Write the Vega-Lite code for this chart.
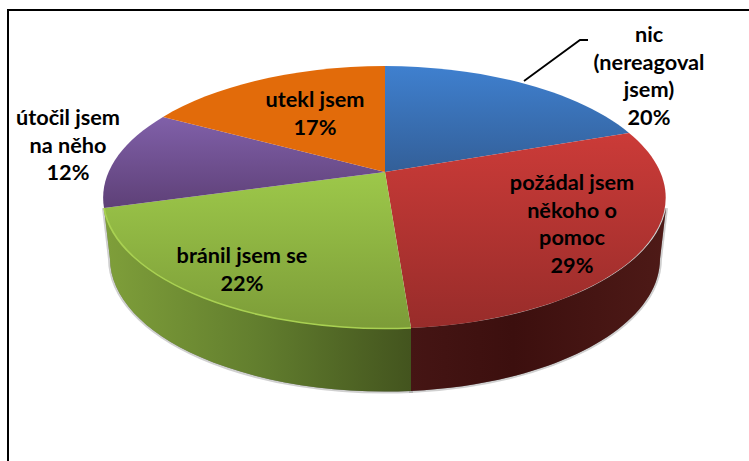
{
"$schema":"https://vega.github.io/schema/vega-lite/v6.json",
"width":749,"height":461,"padding":0,"autosize":{"type":"none"},
"background":"white","config":{"view":{"stroke":null}},
"data":{"values":[
{"slice":"nic","value":20,"label":"nic|(nereagoval|jsem)|20%","lx":264,"ly":-137},
{"slice":"pozadal","value":29,"label":"požádal jsem|někoho o|pomoc|29%","lx":187,"ly":11},
{"slice":"branil","value":22,"label":"bránil jsem se|22%","lx":-143,"ly":84},
{"slice":"utocil","value":12,"label":"útočil jsem|na něho|12%","lx":-317,"ly":-54},
{"slice":"utekl","value":17,"label":"utekl jsem|17%","lx":-70,"ly":-72}
]},
"encoding":{
"x":{"type":"quantitative","scale":{"domain":[-385,364],"nice":false,"zero":false},"axis":null},
"y":{"type":"quantitative","scale":{"domain":[-172,289],"nice":false,"zero":false,"reverse":true},"axis":null}
},
"layer":[
{"transform":[{"filter":"datum.slice==='pozadal'"}],
"mark":{"type":"point","size":4,"filled":true,"opacity":1,"fill":"#888888","stroke":"#777777","strokeWidth":4,"strokeOpacity":0.35,"shape":"M26,156A282,131,0,0,0,281,36L275,87A275,133,0,0,1,26,219Z"},
"encoding":{"x":{"datum":0},"y":{"datum":0}}},
{"transform":[{"filter":"datum.slice==='branil'"}],
"mark":{"type":"point","size":4,"filled":true,"opacity":1,"fill":"#888888","stroke":"#777777","strokeWidth":4,"strokeOpacity":0.35,"shape":"M-281,36A282,131,0,0,0,26,156L26,219A275,133,0,0,1,-275,87Z"},
"encoding":{"x":{"datum":0},"y":{"datum":0}}},
{"transform":[{"filter":"datum.slice==='pozadal'"}],
"mark":{"type":"point","size":4,"filled":true,"opacity":1,"strokeWidth":0,"shape":"M26,156A282,131,0,0,0,281,36L275,87A275,133,0,0,1,26,219Z",
"fill":{"gradient":"linear","x1":0,"y1":0,"x2":1,"y2":0,"stops":[{"offset":0,"color":"#451514"},{"offset":0.4,"color":"#3c0f0e"},{"offset":1,"color":"#4e1a17"}]}},
"encoding":{"x":{"datum":0},"y":{"datum":0}}},
{"transform":[{"filter":"datum.slice==='branil'"}],
"mark":{"type":"point","size":4,"filled":true,"opacity":1,"strokeWidth":0,"shape":"M-281,36A282,131,0,0,0,26,156L26,219A275,133,0,0,1,-275,87Z",
"fill":{"gradient":"linear","x1":0,"y1":0,"x2":1,"y2":0,"stops":[{"offset":0,"color":"#7f9f3a"},{"offset":0.5,"color":"#627e2e"},{"offset":1,"color":"#43541e"}]}},
"encoding":{"x":{"datum":0},"y":{"datum":0}}},
{"transform":[{"filter":"datum.slice==='nic'"}],
"mark":{"type":"point","size":4,"filled":true,"opacity":1,"strokeWidth":0,"shape":"M0,0L0,-106A282,131,0,0,1,244,-39Z",
"fill":{"gradient":"linear","x1":0,"y1":0,"x2":0,"y2":1,"stops":[{"offset":0,"color":"#3f80cf"},{"offset":1,"color":"#335f98"}]}},
"encoding":{"x":{"datum":0},"y":{"datum":0}}},
{"transform":[{"filter":"datum.slice==='pozadal'"}],
"mark":{"type":"point","size":4,"filled":true,"opacity":1,"strokeWidth":0,"shape":"M0,0L244,-39A282,131,0,0,1,26,156Z",
"fill":{"gradient":"linear","x1":0,"y1":0,"x2":0,"y2":1,"stops":[{"offset":0,"color":"#cb3b38"},{"offset":1,"color":"#982c2a"}]}},
"encoding":{"x":{"datum":0},"y":{"datum":0}}},
{"transform":[{"filter":"datum.slice==='branil'"}],
"mark":{"type":"point","size":4,"filled":true,"opacity":1,"strokeWidth":0,"shape":"M0,0L26,156A282,131,0,0,1,-281,36Z",
"fill":{"gradient":"linear","x1":0,"y1":0,"x2":0,"y2":1,"stops":[{"offset":0,"color":"#9dc84a"},{"offset":1,"color":"#7c9c38"}]}},
"encoding":{"x":{"datum":0},"y":{"datum":0}}},
{"transform":[{"filter":"datum.slice==='utocil'"}],
"mark":{"type":"point","size":4,"filled":true,"opacity":1,"strokeWidth":0,"shape":"M0,0L-281,36A282,131,0,0,1,-222,-55Z",
"fill":{"gradient":"linear","x1":0,"y1":0,"x2":0,"y2":1,"stops":[{"offset":0,"color":"#8060a9"},{"offset":1,"color":"#5e4077"}]}},
"encoding":{"x":{"datum":0},"y":{"datum":0}}},
{"transform":[{"filter":"datum.slice==='utekl'"}],
"mark":{"type":"point","size":4,"filled":true,"opacity":1,"strokeWidth":0,"fill":"#e26b0a","shape":"M0,0L-222,-55A282,131,0,0,1,0,-106Z"},
"encoding":{"x":{"datum":0},"y":{"datum":0}}},
{"transform":[{"filter":"datum.slice==='branil'"}],
"mark":{"type":"point","size":4,"filled":false,"opacity":1,"stroke":"#a9d152","strokeWidth":1.6,"shape":"M-281,36A282,131,0,0,0,26,156"},
"encoding":{"x":{"datum":0},"y":{"datum":0}}},
{"mark":{"type":"text","font":"Lato","fontWeight":"bold","fontSize":21.7,"lineBreak":"|","lineHeight":27.7,"align":"center","baseline":"middle","color":"#000000"},
"encoding":{"text":{"field":"label"},
"x":{"field":"lx"},
"y":{"field":"ly"}}},
{"data":{"values":[{"px":139,"py":-91,"k":0},{"px":195,"py":-132,"k":1},{"px":203,"py":-132,"k":2}]},
"mark":{"type":"line","color":"#000000","strokeWidth":1.8},
"encoding":{"order":{"field":"k"},
"x":{"field":"px"},
"y":{"field":"py"}}},
{"data":{"values":[{"edge":"top"}]},
"mark":{"type":"rule","color":"#000000","strokeWidth":2},
"encoding":{"x":{"datum":-378},"x2":{"datum":364},"y":{"datum":-162}}},
{"data":{"values":[{"edge":"left"}]},
"mark":{"type":"rule","color":"#000000","strokeWidth":2},
"encoding":{"x":{"datum":-377},"y":{"datum":-163},"y2":{"datum":289}}}
]
}
